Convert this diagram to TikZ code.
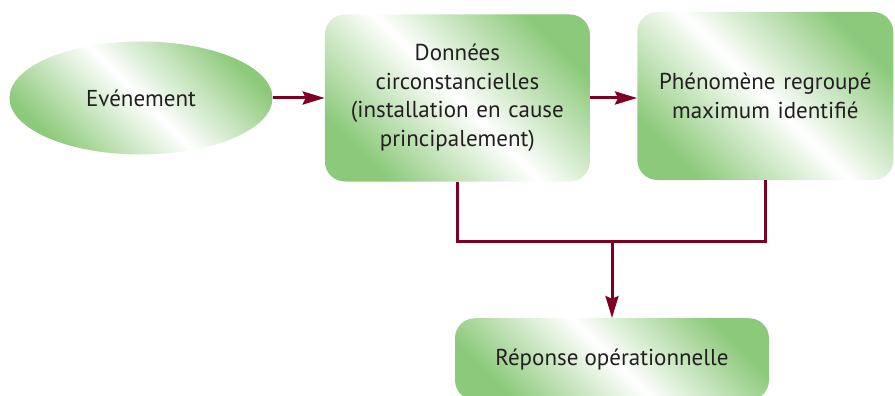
\documentclass[tikz,border=0pt]{standalone}
\usepackage{fontspec}
\setmainfont{PT Sans}
\usetikzlibrary{arrows.meta, positioning, shapes.geometric}
\definecolor{leafgreen}{RGB}{140,201,122}
\definecolor{wine}{RGB}{125,0,35}
\definecolor{inkgray}{RGB}{35,31,32}

\begin{document}
\begin{tikzpicture}[
  x=1pt, y=1pt,
  grad/.style={shade, top color=leafgreen, bottom color=leafgreen, middle color=white, shading angle=-45},
  event/.style={ellipse, grad, minimum width=263pt, minimum height=113pt, inner sep=0pt,
    font=\fontsize{23}{28.5}\selectfont, text=inkgray},
  box/.style={rectangle, rounded corners=20pt, grad, align=center, inner sep=0pt,
    font=\fontsize{23}{28.5}\selectfont, text=inkgray},
  link/.style={wine, line width=3pt},
  edge/.style={link, -{Stealth[length=22pt,width=13pt,inset=3pt]}}
]
\useasboundingbox (0,0) rectangle (895,-396);

\node[event] (evt) at (141,-98) {Evénement};
\node[box, minimum width=265pt, minimum height=167pt, text width=255pt, right=52pt of evt] (data)
  {Données\\circonstancielles\\(installation en cause\\principalement)};
\node[box, minimum width=256pt, minimum height=168pt, text width=250pt, right=47pt of data, yshift=2pt] (pheno)
  {Phénomène regroupé\\maximum identifié};
\coordinate (merge) at (612,-241);
\node[box, minimum width=314pt, minimum height=82pt, below=77pt of merge] (resp) {Réponse opérationnelle};

\draw[edge] (evt.east) -- (evt.east -| data.west);
\draw[edge] (data.east) -- (data.east -| pheno.west);
\draw[link] (data.south) |- (merge) -| (pheno.south);
\draw[edge] (merge) -- (resp);
\end{tikzpicture}
\end{document}
